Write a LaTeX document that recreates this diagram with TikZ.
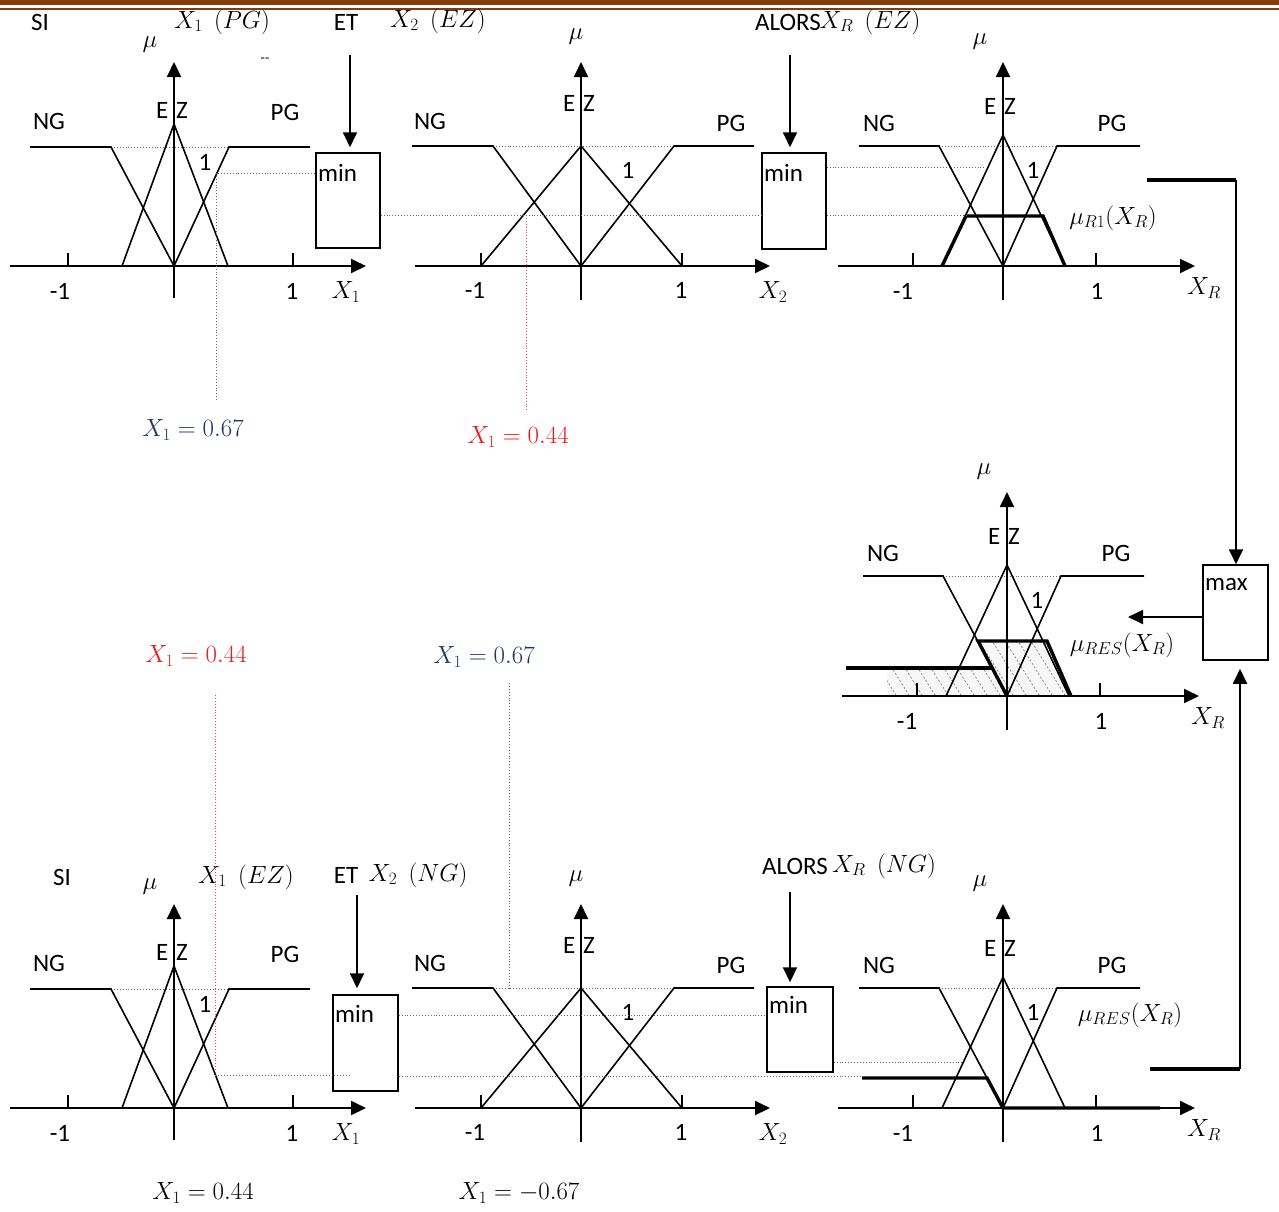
\documentclass[tikz,border=0pt]{standalone}
\usepackage{fontspec}
\setmainfont{Carlito}
\usetikzlibrary{arrows.meta}
\definecolor{brownA}{HTML}{843C0C}
\definecolor{navyA}{HTML}{1F3864}
\definecolor{redA}{HTML}{EE1C1C}
\tikzset{
  ln/.style={line width=1.6pt},
  axisln/.style={line width=1.9pt,-{Triangle[length=15pt,width=14pt]}},
  arr/.style={line width=1.9pt,-{Triangle[length=15pt,width=14pt]}},
  dotln/.style={gray!80!black, dotted, line width=0.9pt},
  rdotln/.style={redA!80, dotted, line width=0.9pt},
  thk/.style={line width=3.4pt},
  lbl/.style={font=\fontsize{25}{29}\selectfont, inner sep=0pt},
  mth/.style={font=\fontsize{25}{29}\selectfont, inner sep=0pt, text=black},
  val/.style={font=\fontsize{27}{31}\selectfont, inner sep=0pt},
  opbox/.style={draw, line width=1.5pt, inner sep=0pt},
  hatchln/.style={gray, line width=0.7pt, dash pattern=on 2pt off 2pt}
}
% column A geometry
\newcommand\mfpanelA[2]{%
  \draw[dotln] (-63,-119) -- (55,-119);
  \draw[ln] (-144,-119) -- (-63,-119) -- (0,0) -- (55,-119) -- (136,-119);
  \draw[ln] (-52,0) -- (0,-142) -- (54,0);
  \draw[ln] (-106,-13) -- (-106,0) (119,-13) -- (119,0);
  \draw[axisln] (-164,0) -- (192,0);
  \draw[axisln] (0,32) -- (0,-204);
  \node[lbl] (#1ng) at (-125,-145) {NG};
  \node[lbl] (#1ez) at (-2,-156) {E\hspace{2pt} Z};
  \node[lbl] (#1pg) at (111,-154) {PG};
  \node[lbl] (#1one) at (31,-104) {1};
  \node[mth] (#1mu) at (-24,-221) {$\mu$};
  \node[lbl] (#1tm) at (-114,25) {-1};
  \node[lbl] (#1tp) at (118,25) {1};
  \node[mth] (#1xl) at (172,26) {#2};
}
% column B geometry
\newcommand\mfpanelB[2]{%
  \draw[dotln] (-88,-120) -- (93,-120);
  \draw[ln] (-169,-120) -- (-88,-120) -- (0,0) -- (93,-120) -- (173,-120);
  \draw[ln] (-100,0) -- (0,-120) -- (101,0);
  \draw[ln] (-100,-13) -- (-100,0) (101,-13) -- (101,0);
  \draw[axisln] (-166,0) -- (189,0);
  \draw[axisln] (0,34) -- (0,-204);
  \node[lbl] (#1ng) at (-151,-145) {NG};
  \node[lbl] (#1ez) at (-2,-163) {E\hspace{2pt} Z};
  \node[lbl] (#1pg) at (150,-143) {PG};
  \node[lbl] (#1one) at (47,-96) {1};
  \node[mth] (#1mu) at (-5,-229) {$\mu$};
  \node[lbl] (#1tm) at (-106,24) {-1};
  \node[lbl] (#1tp) at (100,24) {1};
  \node[mth] (#1xl) at (192,26) {#2};
}
% column C geometry
\newcommand\mfpanelC[2]{%
  \draw[dotln] (-64,-120) -- (54,-120);
  \draw[ln] (-144,-120) -- (-64,-120) -- (0,0) -- (54,-120) -- (137,-120);
  \draw[ln] (-61,0) -- (0,-131) -- (62,0);
  \draw[ln] (-90,-13) -- (-90,0) (93,-13) -- (93,0);
  \draw[axisln] (-165,0) -- (192,0);
  \draw[axisln] (0,34) -- (0,-204);
  \node[lbl] (#1ng) at (-124,-143) {NG};
  \node[lbl] (#1ez) at (-3,-160) {E\hspace{2pt} Z};
  \node[lbl] (#1pg) at (109,-143) {PG};
  \node[lbl] (#1one) at (30,-96) {1};
  \node[mth] (#1mu) at (-23,-224) {$\mu$};
  \node[lbl] (#1tm) at (-100,25) {-1};
  \node[lbl] (#1tp) at (94,25) {1};
  \node[mth] (#1xl) at (201,22) {#2};
}
\begin{document}
\begin{tikzpicture}[x=1pt,y=-1pt]
\useasboundingbox (0,0) rectangle (1279,1211);
\fill[brownA] (0,0) rectangle (1279,5);
\fill[brownA] (0,7.5) rectangle (1279,9.5);

% ---------- top row ----------
\begin{scope}[shift={(174,266)}] \mfpanelA{a}{$X_1$} \end{scope}
\begin{scope}[shift={(581,266)}] \mfpanelB{b}{$X_2$} \end{scope}
\begin{scope}[shift={(1003,266)}]
  \mfpanelC{c}{$X_R$}
  \draw[thk, line join=miter] (-61,0) -- (-37,-50) -- (40,-50) -- (62,0);
\end{scope}

\node[opbox, minimum width=64pt, minimum height=95pt] (min1) at (348,200.5) {};
\node[lbl, anchor=base west] (min1t) at (318,181) {min};
\node[opbox, minimum width=64pt, minimum height=96pt] (min2) at (794,201) {};
\node[lbl, anchor=base west] (min2t) at (764,181) {min};

\node[lbl] (si1) at (40,22) {SI};
\node[mth] (x1pg) at (222,22) {$X_1\ \ (PG)$};
\node[lbl] (et1) at (346,22) {ET};
\node[mth] (x2ez) at (438,21) {$X_2\ \ (EZ)$};
\node[lbl] (alors1) at (788,22) {ALORS};
\node[mth] (xrez) at (870,22) {$X_R\ \ (EZ)$};
\node[font=\fontsize{14}{14}\selectfont, inner sep=0pt] (dd) at (265,60) {-{}-};

\coordinate (a1) at (350,55);
\draw[arr, shorten >=5pt] (a1) -- (a1 |- min1.north);
\coordinate (a2) at (790,55);
\draw[arr, shorten >=5pt] (a2) -- (a2 |- min2.north);

\coordinate (p1) at (216,173);
\coordinate (p1b) at (216,400);
\draw[dotln] (p1b) -- (p1) -- (p1 -| min1.west);
\coordinate (p2) at (380,215);
\draw[dotln] (min1.east |- p2) -- (min2.west |- p2);
\coordinate (p3) at (526,215);
\coordinate (p3b) at (526,410);
\draw[rdotln] (p3) -- (p3b);
\coordinate (p4) at (985,167);
\draw[dotln] (min2.east |- p4) -- (p4);
\coordinate (p5) at (967,215);
\draw[dotln] (min2.east |- p5) -- (p5);

\node[mth] (mur1) at (1113,218) {$\mu_{R1}(X_R)$};

% ---------- values ----------
\node[val, navyA] (v1) at (193,430) {$X_1 = 0.67$};
\node[val, redA] (v2) at (518,437) {$X_1 = 0.44$};
\node[val, redA] (v3) at (196,656) {$X_1 = 0.44$};
\node[val, navyA] (v4) at (484,657) {$X_1 = 0.67$};
\node[val] (v5) at (203,1193) {$X_1 = 0.44$};
\node[val] (v6) at (519,1193) {$X_1 = -0.67$};

% ---------- result panel ----------
\begin{scope}[shift={(1007,696)}]
  \begin{scope}
    \clip (-120,0) -- (-120,-28) -- (-15,-28) -- (-29,-55) -- (40,-55) -- (64,0) -- cycle;
    \fill[gray!6] (-130,5) rectangle (70,-60);
    \foreach \i in {-200,-187,...,100} \draw[hatchln] (\i,-60) -- ++(40,64);
  \end{scope}
  \mfpanelC{d}{$X_R$}
  \draw[thk] (-161,-28) -- (-15,-28);
  \draw[thk, line join=miter] (0,0) -- (-29,-55) -- (40,-55) -- (64,0);
\end{scope}
\node[mth] (mures1) at (1122,645) {$\mu_{RES}(X_R)$};
\node[opbox, minimum width=65pt, minimum height=95pt] (maxb) at (1235.5,612.5) {};
\node[lbl, anchor=base west] (maxt) at (1205,590) {max};
\coordinate (resin) at (1128,617);
\draw[arr] (maxb.west |- resin) -- (resin);

% ---------- bottom row ----------
\begin{scope}[shift={(174,1108)}] \mfpanelA{e}{$X_1$} \end{scope}
\begin{scope}[shift={(581,1108)}] \mfpanelB{f}{$X_2$} \end{scope}
\begin{scope}[shift={(1003,1108)}]
  \mfpanelC{g}{$X_R$}
  \draw[thk, line join=miter] (-141,-30) -- (-16,-30) -- (0,0) -- (157,0);
\end{scope}

\node[opbox, minimum width=65pt, minimum height=96pt] (minE) at (365.5,1043) {};
\node[lbl, anchor=base west] (minEt) at (335,1022) {min};
\node[opbox, minimum width=66pt, minimum height=85pt] (min3) at (800,1029.5) {};
\node[lbl, anchor=base west] (min3t) at (769,1013) {min};

\node[lbl] (si2) at (62,877) {SI};
\node[mth] (x1ez) at (246,877) {$X_1\ \ (EZ)$};
\node[lbl] (et2) at (346,875) {ET};
\node[mth] (x2ng) at (418,875) {$X_2\ \ (NG)$};
\node[lbl] (alors2) at (795,866) {ALORS};
\node[mth] (xrng) at (884,866) {$X_R\ \ (NG)$};
\node[mth] (mures2) at (1130,1015) {$\mu_{RES}(X_R)$};

\coordinate (a3) at (357,895);
\draw[arr, shorten >=6pt] (a3) -- (a3 |- minE.north);
\coordinate (a4) at (790,892);
\draw[arr, shorten >=4pt] (a4) -- (a4 |- min3.north);

\coordinate (q1t) at (215.5,695);
\coordinate (q1) at (215.5,1075);
\draw[rdotln] (q1t) -- (q1);
\coordinate (q1e) at (350,1075);
\draw[dotln] (q1) -- (q1e);
\coordinate (q2) at (862,1076);
\draw[dotln] (minE.east |- q2) -- (q2);
\coordinate (q3) at (400,1015);
\draw[dotln] (minE.east |- q3) -- (min3.west |- q3);
\coordinate (q4) at (963,1062);
\draw[dotln] (min3.east |- q4) -- (q4);
\coordinate (q5t) at (509,683);
\coordinate (q5b) at (509,988);
\draw[dotln] (q5t) -- (q5b);

% ---------- max connectors ----------
\coordinate (r1) at (1147,180);
\coordinate (c1) at (1236,180);
\draw[thk] (r1) -- (c1);
\draw[arr] (c1) -- (c1 |- maxb.north);
\coordinate (r2) at (1150,1069);
\coordinate (c2) at (1240,1069);
\draw[thk] (r2) -- (c2);
\draw[arr, shorten >=8pt] (c2) -- (c2 |- maxb.south);
\end{tikzpicture}
\end{document}
